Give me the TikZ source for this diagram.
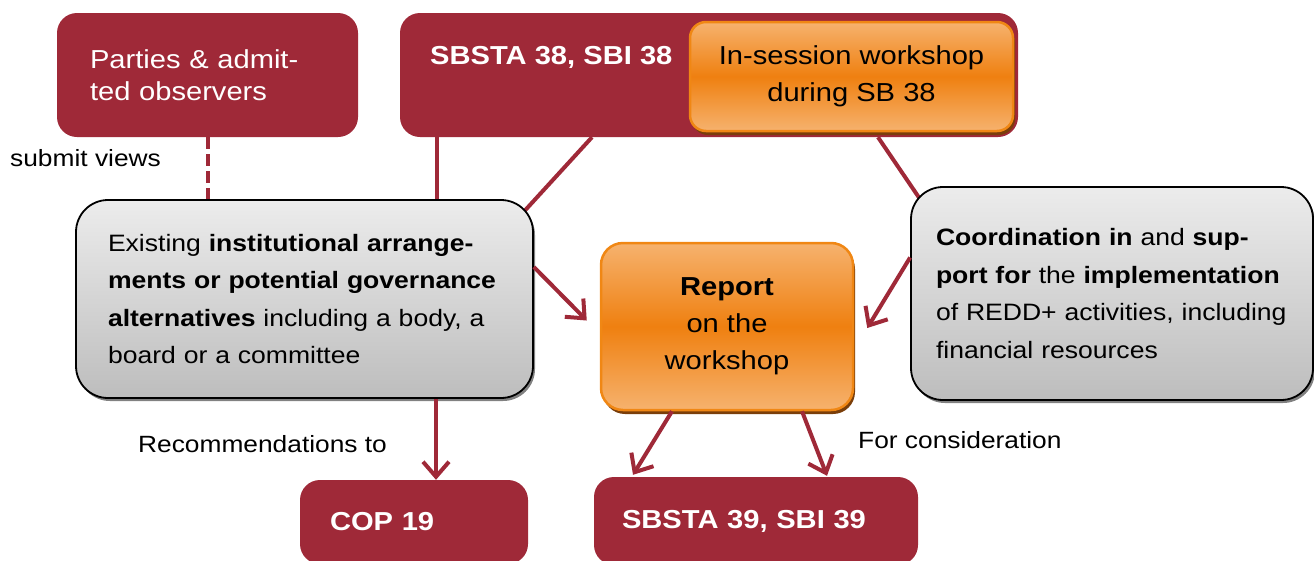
\documentclass[tikz,border=0pt]{standalone}
\usepackage{fontspec}
\setmainfont[FakeStretch=1.12]{Liberation Sans}
\usepackage{tikz}
\usetikzlibrary{arrows.meta}
\usetikzlibrary{shadows}
\usetikzlibrary{backgrounds}
\definecolor{sbred}{RGB}{159,41,56}
\definecolor{ortop}{RGB}{246,178,110}
\definecolor{ormid}{RGB}{239,128,16}
\definecolor{orline}{RGB}{240,135,20}
\definecolor{orshade}{RGB}{122,62,10}
\definecolor{grtop}{RGB}{236,236,236}
\definecolor{grbot}{RGB}{189,189,189}
\tikzset{
  redbox/.style={fill=sbred, rounded corners=20pt, text=white, inner sep=0pt, align=left,
    font=\fontsize{26}{32}\selectfont},
  orangebox/.style={draw=orline, line width=2.5pt, top color=ortop, bottom color=ortop, middle color=ormid,
    general shadow={fill=orshade, shadow xshift=2pt, shadow yshift=-4pt},
    inner sep=0pt, align=center, font=\fontsize{26}{37}\selectfont},
  graybox/.style={draw=black, line width=1.8pt, rounded corners=32pt, top color=grtop, bottom color=grbot,
    drop shadow={shadow xshift=2pt, shadow yshift=-3pt, fill=black!70, opacity=.7},
    inner sep=0pt, align=left, font=\fontsize{23.7}{37.5}\selectfont},
  lbl/.style={inner sep=0pt, anchor=west, font=\fontsize{23.5}{28}\selectfont},
  conn/.style={draw=sbred, line width=4pt},
  arr/.style={conn, -{Straight Barb[length=15pt,width=26pt]}}
}

\begin{document}
\begin{tikzpicture}[x=1pt,y=-1pt]
        \useasboundingbox (0,0) rectangle (1314,560);
        % top row
        \node[redbox, minimum width=301pt, minimum height=124pt, text width=235pt] (parties) at (207.5,75) {Parties \& admit-\\ted observers};
        \node[redbox, minimum width=618pt, minimum height=124pt] (sb38) at (709,75) {};
        \node[redbox, anchor=west, font=\fontsize{26}{32}\selectfont\bfseries] (sb38text) at (430,57) {SBSTA 38, SBI 38};
        \node[orangebox, minimum width=323pt, minimum height=109pt, rounded corners=16pt] (insession) at (851.5,76.5) {In-session workshop\\during SB 38};
        % middle row
        \node[graybox, minimum width=457pt, minimum height=198pt, text width=393pt] (existing) at (304.5,299)
          {Existing \textbf{institutional arrange-}\\\textbf{ments or potential governance}\\\textbf{alternatives} including a body, a\\board or a committee};
        \node[orangebox, minimum width=252pt, minimum height=167pt, rounded corners=22pt] (report) at (727,326.5) {\textbf{Report}\\on the\\workshop};
        \node[graybox, minimum width=402pt, minimum height=213pt, text width=352pt] (coord) at (1112,293.5)
          {\textbf{Coordination in} and \textbf{sup-}\\\textbf{port for} the \textbf{implementation}\\of REDD+ activities, including\\financial resources};
        % bottom row
        \node[redbox, minimum width=228pt, minimum height=84pt, text width=168pt, font=\fontsize{26}{32}\selectfont\bfseries] (cop) at (414,522) {COP 19};
        \node[redbox, minimum width=324pt, minimum height=88pt, text width=268pt, font=\fontsize{26}{32}\selectfont\bfseries] (sb39) at (756,521) {SBSTA 39, SBI 39};
        % labels
        \node[lbl] (submit) at (10,158) {submit views};
        \node[lbl] (recom) at (138,444) {Recommendations to};
        \node[lbl] (consid) at (858,440) {For consideration};
        % links
        \begin{pgfonlayer}{background}
        \draw[conn, dash pattern=on 12pt off 5pt] (parties.south) -- ([xshift=-97pt]existing.north);
        \draw[conn] ([xshift=-272pt]sb38.south) -- ([xshift=132.5pt]existing.north);
        \draw[conn] ([xshift=-117pt]sb38.south) -- ([xshift=-15pt,yshift=-18pt]existing.north east);
        \draw[conn] ([xshift=169pt]sb38.south) -- ([xshift=14pt,yshift=-19pt]coord.north west);
        \end{pgfonlayer}
        \draw[arr] ([yshift=32pt]existing.east) -- ([xshift=-13pt,yshift=6pt]report.west);
        \draw[arr] ([yshift=36pt]coord.west) -- ([xshift=13pt,yshift=-1.5pt]report.east);
        \draw[arr] ([xshift=131.5pt]existing.south) -- ([xshift=22pt]cop.north);
        \draw[arr] ([xshift=-55pt]report.south) -- ([xshift=-123pt,yshift=2pt]sb39.north);
        \draw[arr] ([xshift=75pt]report.south) -- ([xshift=71pt,yshift=1pt]sb39.north);
    \end{tikzpicture}
\end{document}
